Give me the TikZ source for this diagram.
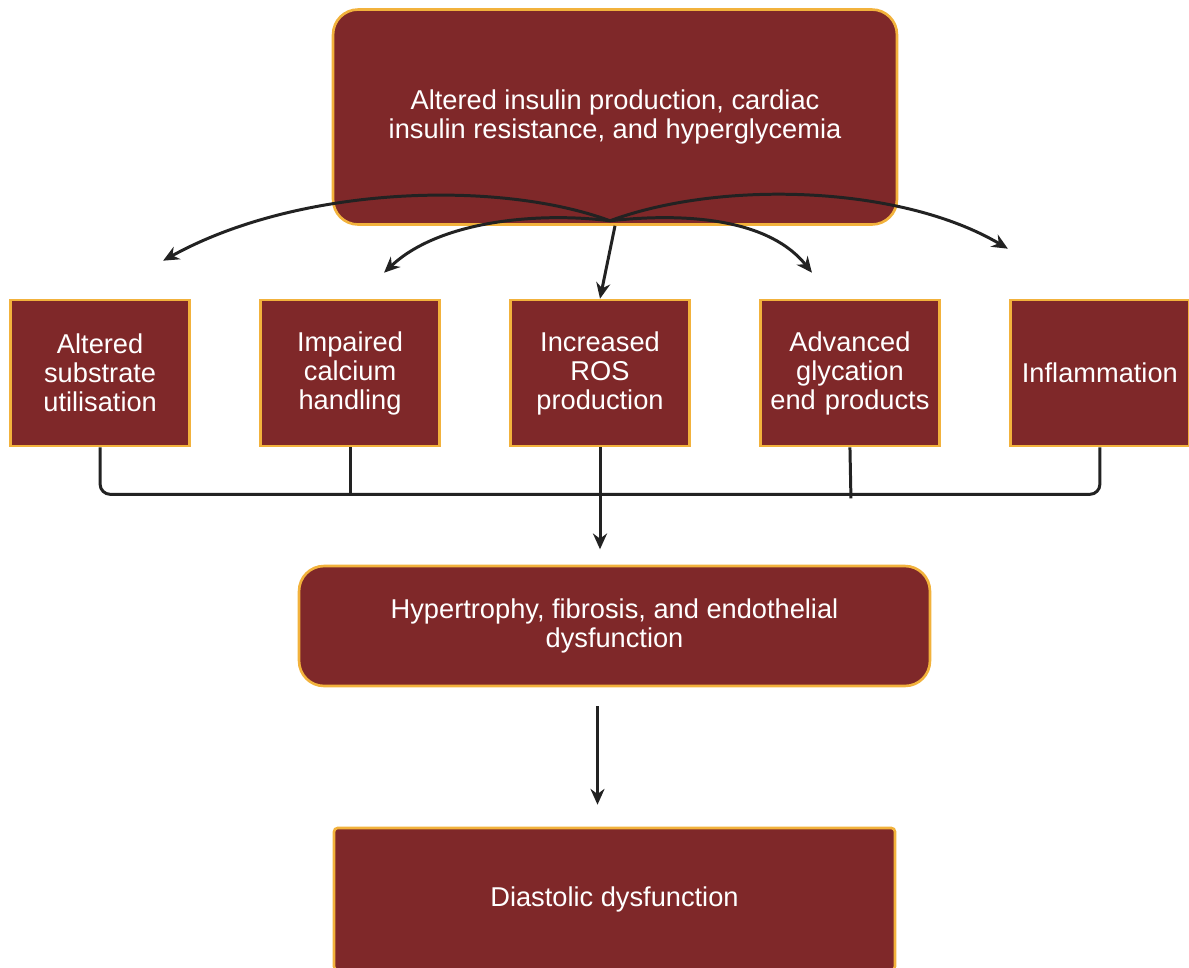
\documentclass[tikz,border=0pt]{standalone}
\usepackage{fontspec}
\setmainfont{Liberation Sans}
\usepackage{tikz}
\usetikzlibrary{matrix,arrows.meta,calc}
\definecolor{boxred}{RGB}{127,40,41}
\definecolor{boxrim}{RGB}{242,178,60}
\definecolor{linegrey}{RGB}{34,34,34}

\begin{document}
\begin{tikzpicture}[x=0.02cm, y=-0.02cm,
  box/.style={draw=boxrim, fill=boxred, line width=1.5pt, text=white, align=center,
    font=\fontsize{15.5}{16.5}\selectfont},
  flow/.style={draw=linegrey, line width=1.7pt, -{Stealth[length=9pt,width=8pt]}}]
  \useasboundingbox (0,0) rectangle (1189,967);
  \node[box, rounded corners=0.5cm, minimum width=11.28cm, minimum height=4.3cm] (ins) at (615,117)
    {Altered insulin production, cardiac\\insulin resistance, and hyperglycemia};
  \matrix (m) [matrix of nodes, column sep=1.367cm,
    nodes={box, anchor=center, minimum width=3.58cm, minimum height=2.92cm, text width=3.25cm}] at (600,373)
  {
     {Altered\\substrate\\utilisation} & {Impaired\\calcium\\handling} & {Increased\\ROS\\production}
       & {Advanced\\glycation\\end products} & Inflammation \\
  };
  \node[box, rounded corners=0.5cm, minimum width=12.62cm, minimum height=2.4cm] (hyp) at (614.5,626)
    {Hypertrophy, fibrosis,  and endothelial\\dysfunction};
  \node[box, rounded corners=2pt, minimum width=11.22cm, minimum height=2.84cm] (dia) at (614.5,899)
    {Diastolic dysfunction};
  \coordinate (o) at ($(ins.south)+(-5,-5)$);
  % spread from the top box
  \draw[flow] (o) .. controls (500,180) and (300,185) .. ($(m-1-1.north)+(63,-38)$);
  \draw[flow] (o) .. controls (540,212) and (440,220) .. ($(m-1-2.north)+(34,-26)$);
  \draw[flow] (ins.south) -- (m-1-3.north);
  \draw[flow] (o) .. controls (690,212) and (770,220) .. ($(m-1-4.north)+(-38,-26)$);
  \draw[flow] (o) .. controls (720,180) and (900,185) .. ($(m-1-5.north)+(-92,-50)$);
  % bracket into the lower box
  \draw[linegrey, line width=1.7pt, rounded corners=0.2cm]
    (m-1-1.south) -- ++(0,47) -- ($(m-1-5.south)+(0,47)$) -- (m-1-5.south);
  \draw[linegrey, line width=1.7pt] (m-1-2.south) -- ++(0,47);
  \draw[linegrey, line width=1.7pt] (m-1-4.south) -- ++(1,51);
  \draw[flow] (m-1-3.south) -- ++(0,102);
  \draw[flow] ($(hyp.south)+(-17,19)$) -- ($(dia.north)+(-17,-22)$);
\end{tikzpicture}
\end{document}
